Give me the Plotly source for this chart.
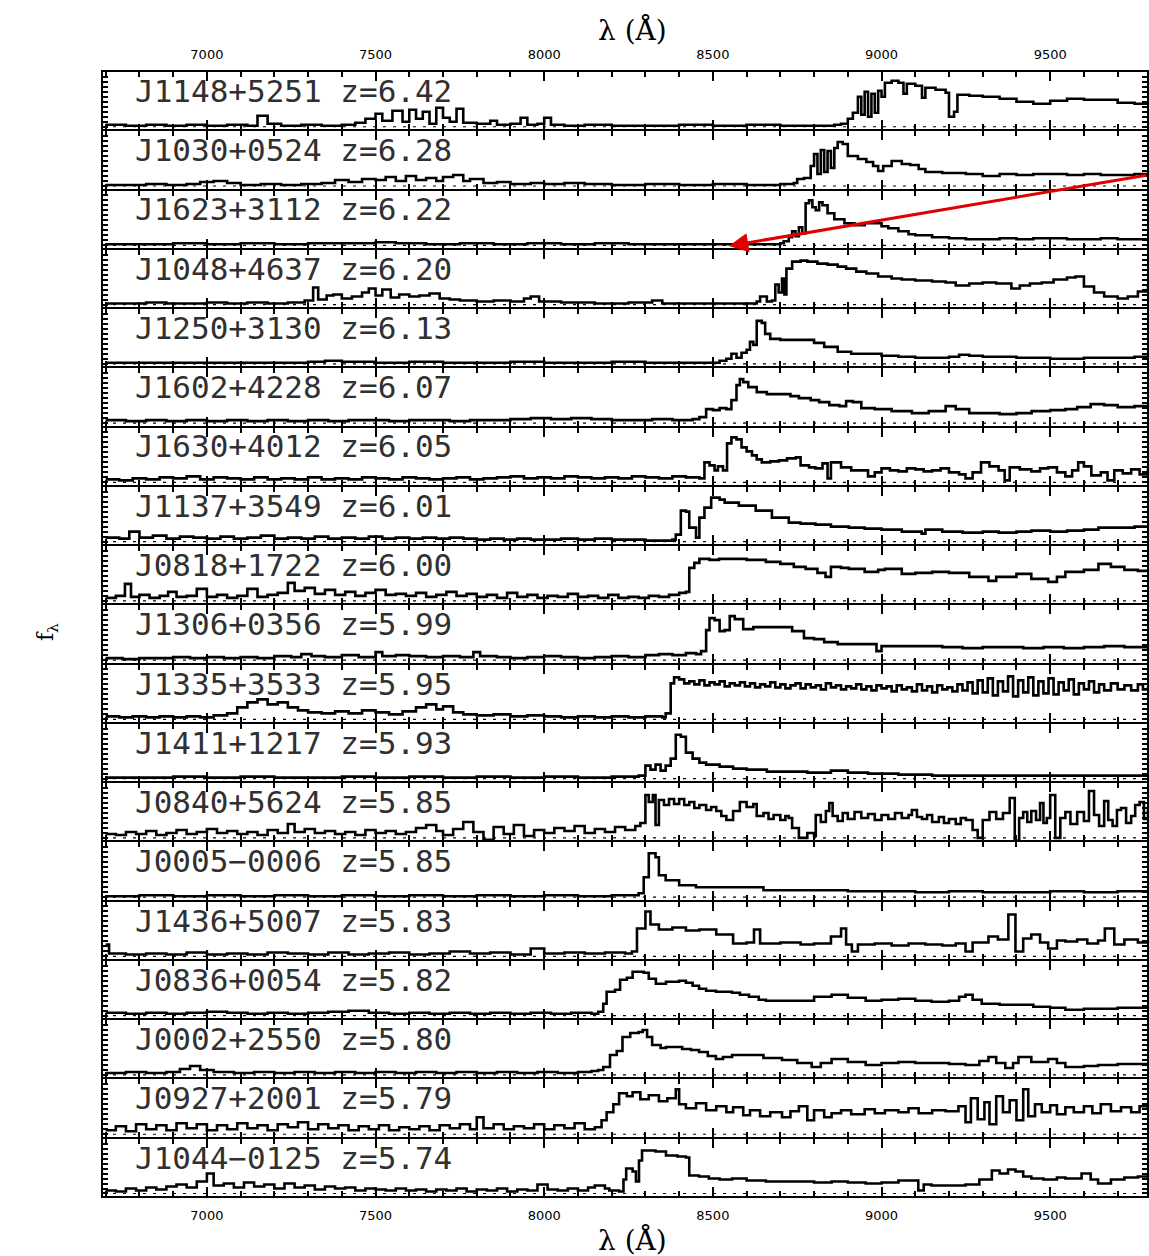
import plotly.graph_objects as go
from plotly.subplots import make_subplots

NAMES = ["J1148+5251", "J1030+0524", "J1623+3112", "J1048+4637", "J1250+3130",
         "J1602+4228", "J1630+4012", "J1137+3549", "J0818+1722", "J1306+0356",
         "J1335+3533", "J1411+1217", "J0840+5624", "J0005\u22120006", "J1436+5007",
         "J0836+0054", "J0002+2550", "J0927+2001", "J1044\u22120125"]
REDSHIFTS = ["6.42", "6.28", "6.22", "6.20", "6.13", "6.07", "6.05", "6.01", "6.00", "5.99",
             "5.95", "5.93", "5.85", "5.85", "5.83", "5.82", "5.80", "5.79", "5.74"]
TICK_VALUES = [7000, 7500, 8000, 8500, 9000, 9500]

# (wavelength [A], flux [arbitrary units])
J1148 = [(6700,2),(6760,1),(6820,2),(6880,1),(6940,2),(7000,1),(7060,2),(7120,1),(7150,11),(7180,3),
         (7220,1),(7280,2),(7340,1),(7400,2),(7440,4),(7470,8),(7500,13),(7520,6),(7550,16),(7580,5),
         (7600,17),(7620,8),(7640,15),(7660,3),(7680,19),(7700,9),(7720,5),(7740,18),(7760,4),(7800,3),
         (7840,6),(7860,2),(7900,3),(7930,9),(7950,2),(7980,3),(8000,9),(8020,2),(8060,1),(8120,2),
         (8200,1),(8300,1),(8400,2),(8500,1),(8600,2),(8700,1),(8800,1),(8860,2),(8880,3),(8900,8),
         (8915,14),(8930,30),(8940,12),(8950,35),(8960,10),(8970,33),(8980,14),(8990,36),(9000,30),(9010,44),
         (9030,46),(9050,44),(9065,33),(9075,43),(9100,41),(9120,29),(9130,39),(9160,37),(9190,34),(9200,10),
         (9215,15),(9225,32),(9260,31),(9300,30),(9350,28),(9400,25),(9450,23),(9500,26),(9550,28),(9600,27),
         (9650,27),(9700,24),(9750,23),(9790,25)]
J1030 = [(6700,1),(6760,1),(6820,2),(6880,1),(6940,2),(6980,4),(7020,5),(7060,3),(7100,1),(7160,2),
         (7220,1),(7280,2),(7340,3),(7380,6),(7420,4),(7460,7),(7500,6),(7530,9),(7560,5),(7590,10),
         (7620,6),(7650,8),(7680,5),(7700,9),(7730,11),(7760,5),(7780,7),(7820,3),(7860,4),(7900,2),
         (7960,3),(8000,2),(8060,3),(8120,2),(8200,1),(8300,2),(8400,1),(8500,2),(8600,1),(8700,2),
         (8740,3),(8750,7),(8770,8),(8790,20),(8800,32),(8810,12),(8820,36),(8830,14),(8840,35),(8850,18),
         (8860,38),(8870,44),(8885,42),(8900,30),(8930,27),(8955,24),(8975,20),(8990,15),(9005,20),(9030,25),
         (9060,22),(9085,21),(9110,17),(9130,14),(9180,13),(9250,12),(9300,10),(9350,12),(9400,11),(9450,12),
         (9500,12),(9550,11),(9600,12),(9650,11),(9700,11),(9750,12),(9790,13)]
J1623 = [(6700,1),(6800,1),(6900,2),(7000,1),(7100,2),(7200,1),(7300,2),(7400,2),(7500,3),(7560,2),
         (7650,1),(7750,2),(7850,1),(7950,2),(8050,1),(8150,2),(8250,1),(8350,1),(8450,1),(8550,1),
         (8650,1),(8700,2),(8710,4),(8725,8),(8735,14),(8745,9),(8755,18),(8765,12),(8775,42),(8785,45),
         (8795,38),(8805,35),(8815,43),(8825,40),(8840,32),(8860,26),(8890,22),(8920,20),(8950,22),(8980,22),
         (9000,19),(9020,17),(9050,14),(9080,11),(9100,10),(9150,8),(9200,7),(9250,6),(9300,6),(9350,7),
         (9400,6),(9450,7),(9500,7),(9550,6),(9600,6),(9650,7),(9700,6),(9750,6),(9790,6)]
J1048 = [(6700,1),(6760,1),(6820,2),(6880,1),(6940,1),(7000,2),(7060,1),(7120,2),(7180,1),(7240,2),
         (7290,4),(7315,17),(7330,5),(7355,9),(7375,10),(7400,6),(7430,8),(7460,12),(7480,16),(7500,9),
         (7520,15),(7545,7),(7570,10),(7600,8),(7630,9),(7660,11),(7690,6),(7720,5),(7750,4),(7800,3),
         (7850,4),(7900,3),(7940,6),(7960,8),(7985,3),(8050,2),(8150,1),(8250,2),(8320,4),(8350,1),
         (8450,1),(8550,1),(8630,3),(8640,8),(8660,3),(8675,4),(8685,20),(8695,12),(8705,26),(8712,10),
         (8718,36),(8735,43),(8760,44),(8780,43),(8810,41),(8840,40),(8870,38),(8895,36),(8925,33),(8955,31),
         (8990,28),(9030,26),(9060,25),(9100,24),(9150,23),(9190,22),(9220,19),(9260,21),(9300,22),(9340,21),
         (9385,16),(9410,19),(9440,21),(9475,22),(9510,25),(9550,27),(9575,28),(9600,18),(9630,12),(9660,8),
         (9700,6),(9730,8),(9760,13),(9790,19)]
J1250 = [(6700,1),(6800,1),(6900,1),(7000,1),(7100,1),(7200,1),(7300,2),(7350,3),(7400,2),(7500,1),
         (7600,2),(7700,1),(7800,1),(7900,2),(8000,1),(8100,1),(8200,2),(8300,1),(8400,1),(8500,1),
         (8520,3),(8540,5),(8555,10),(8570,6),(8585,11),(8600,14),(8610,22),(8620,19),(8630,43),(8645,41),
         (8655,30),(8670,25),(8700,24),(8740,24),(8780,24),(8800,21),(8830,17),(8870,12),(8910,10),(8950,10),
         (9000,8),(9050,7),(9100,6),(9150,6),(9200,7),(9230,9),(9260,8),(9300,7),(9350,7),(9400,6),
         (9450,6),(9500,5),(9550,5),(9600,6),(9650,6),(9700,6),(9750,7),(9790,7)]
J1602 = [(6700,3),(6760,2),(6820,3),(6880,2),(6940,3),(7000,2),(7060,3),(7120,2),(7180,3),(7240,2),
         (7300,3),(7360,2),(7420,3),(7480,3),(7540,2),(7600,3),(7660,3),(7720,2),(7780,3),(7840,3),
         (7900,4),(7960,5),(8020,4),(8080,5),(8140,4),(8200,3),(8260,3),(8320,4),(8380,3),(8440,4),
         (8460,6),(8480,14),(8500,13),(8520,15),(8540,14),(8555,23),(8570,38),(8580,44),(8590,41),(8605,36),
         (8630,31),(8660,29),(8700,29),(8730,27),(8755,25),(8790,23),(8815,21),(8845,18),(8875,17),(8895,22),
         (8915,21),(8940,15),(8980,14),(9030,12),(9090,10),(9140,12),(9190,17),(9220,14),(9260,10),(9300,10),
         (9350,9),(9400,10),(9445,12),(9500,13),(9545,14),(9580,16),(9620,19),(9660,18),(9700,16),(9750,17),
         (9790,17)]
J1630 = [(6700,3),(6740,2),(6780,4),(6820,3),(6860,5),(6900,4),(6940,6),(6980,3),(7020,5),(7060,4),
         (7100,3),(7140,5),(7180,3),(7220,4),(7260,3),(7300,5),(7340,3),(7380,4),(7420,3),(7460,5),
         (7500,4),(7540,3),(7580,5),(7620,4),(7660,3),(7700,4),(7740,5),(7780,3),(7820,4),(7860,5),
         (7900,6),(7940,4),(7980,5),(8020,4),(8060,6),(8100,5),(8140,4),(8180,5),(8220,4),(8260,6),
         (8300,5),(8340,4),(8380,6),(8420,5),(8460,4),(8475,20),(8490,17),(8505,12),(8515,16),(8530,12),
         (8542,39),(8555,45),(8570,43),(8585,35),(8600,31),(8616,27),(8630,23),(8645,20),(8670,21),(8696,22),
         (8720,24),(8746,25),(8760,17),(8785,15),(8804,14),(8825,19),(8840,4),(8850,20),(8880,15),(8910,12),
         (8940,12),(8960,6),(8980,10),(9000,14),(9025,12),(9050,11),(9075,14),(9100,13),(9125,11),(9150,12),
         (9175,14),(9200,10),(9230,8),(9249,4),(9270,10),(9295,20),(9320,16),(9347,12),(9365,2),(9380,15),
         (9410,13),(9444,11),(9470,14),(9494,15),(9520,10),(9545,6),(9565,12),(9583,20),(9600,16),(9622,7),
         (9650,10),(9670,2),(9690,12),(9715,9),(9740,13),(9765,8),(9790,14)]
J1137 = [(6700,4),(6740,3),(6770,10),(6800,4),(6840,6),(6880,3),(6920,5),(6960,4),(7000,3),(7040,5),
         (7080,3),(7120,4),(7160,6),(7200,3),(7240,4),(7280,3),(7320,5),(7360,3),(7400,4),(7440,3),
         (7480,5),(7520,3),(7560,4),(7600,3),(7640,4),(7680,3),(7720,4),(7760,3),(7800,2),(7840,3),
         (7880,2),(7920,3),(7960,2),(8000,2),(8050,3),(8100,2),(8150,3),(8200,2),(8250,2),(8300,1),
         (8350,1),(8380,2),(8390,7),(8405,31),(8420,30),(8430,14),(8450,4),(8460,24),(8475,34),(8495,44),
         (8520,42),(8535,39),(8577,36),(8627,31),(8675,24),(8725,19),(8760,18),(8804,17),(8850,15),(8903,14),
         (8950,13),(9000,12),(9060,10),(9100,10),(9119,8),(9130,12),(9180,10),(9240,9),(9300,10),(9347,9),
         (9400,10),(9444,11),(9500,10),(9550,11),(9600,12),(9643,14),(9700,14),(9750,15),(9790,15)]
J0818 = [(6700,3),(6730,5),(6757,17),(6775,4),(6800,6),(6830,3),(6860,5),(6885,9),(6910,4),(6940,5),
         (6970,12),(7000,4),(7030,6),(7060,3),(7090,5),(7120,12),(7150,4),(7180,6),(7210,8),(7240,18),
         (7260,10),(7290,13),(7320,7),(7350,11),(7380,6),(7410,9),(7440,5),(7470,8),(7500,11),(7530,6),
         (7560,7),(7590,5),(7620,8),(7650,4),(7680,6),(7710,9),(7740,5),(7770,7),(7800,4),(7830,6),
         (7860,3),(7890,8),(7920,4),(7950,6),(7980,3),(8010,5),(8040,4),(8070,7),(8100,4),(8130,5),
         (8160,3),(8190,6),(8220,3),(8250,4),(8280,3),(8310,5),(8340,4),(8370,6),(8400,8),(8420,9),
         (8430,33),(8445,38),(8460,42),(8490,41),(8518,42),(8560,42),(8600,41),(8657,39),(8700,37),(8740,34),
         (8775,32),(8810,28),(8834,24),(8850,34),(8880,33),(8903,32),(8950,29),(8990,31),(9010,32),(9060,27),
         (9100,28),(9150,29),(9200,28),(9260,24),(9317,20),(9340,24),(9400,27),(9444,22),(9494,19),(9520,24),
         (9545,29),(9600,31),(9643,37),(9680,34),(9720,31),(9760,30),(9790,30)]
J1306 = [(6700,2),(6750,1),(6800,2),(6850,2),(6900,3),(6950,2),(7000,3),(7050,2),(7100,3),(7150,2),
         (7200,4),(7250,3),(7280,6),(7310,4),(7350,3),(7400,5),(7450,3),(7500,8),(7520,4),(7560,5),
         (7600,4),(7650,3),(7700,4),(7750,3),(7790,8),(7810,4),(7860,3),(7900,2),(7950,3),(8000,4),
         (8050,3),(8100,2),(8150,3),(8200,4),(8250,3),(8300,5),(8340,6),(8380,5),(8420,7),(8450,6),
         (8465,9),(8480,30),(8490,42),(8505,40),(8520,29),(8535,30),(8550,44),(8565,41),(8590,31),(8620,33),
         (8660,33),(8700,33),(8735,29),(8770,22),(8800,21),(8830,18),(8870,16),(8930,16),(8985,9),(9000,14),
         (9060,14),(9120,14),(9180,13),(9240,12),(9300,13),(9360,13),(9420,12),(9480,13),(9540,12),(9600,13),
         (9660,14),(9720,13),(9790,14)]
J1335 = [(6700,3),(6740,2),(6780,3),(6820,2),(6860,3),(6900,2),(6940,3),(6980,2),(7020,4),(7060,6),
         (7090,12),(7120,17),(7150,20),(7180,15),(7210,17),(7240,12),(7270,9),(7300,7),(7340,6),(7380,8),
         (7420,6),(7460,9),(7500,7),(7540,5),(7580,8),(7620,12),(7650,15),(7680,10),(7700,13),(7730,7),
         (7760,5),(7800,4),(7850,5),(7900,3),(7950,4),(8000,3),(8050,2),(8100,3),(8150,2),(8200,3),
         (8250,2),(8300,3),(8350,2),(8360,6),(8375,36),(8385,42),(8400,40),(8415,36),(8430,38),(8445,35),
         (8460,39),(8475,34),(8490,37),(8505,35),(8520,38),(8535,33),(8550,36),(8565,34),(8580,37),(8595,33),
         (8610,36),(8625,32),(8640,35),(8655,33),(8670,37),(8685,32),(8700,35),(8715,31),(8730,34),(8745,36),
         (8760,31),(8775,35),(8790,32),(8805,34),(8820,30),(8835,36),(8850,32),(8865,34),(8880,30),(8895,33),
         (8910,31),(8925,35),(8940,30),(8955,33),(8970,29),(8985,34),(9000,31),(9015,33),(9030,28),(9045,34),
         (9060,30),(9075,32),(9090,28),(9105,35),(9120,29),(9135,33),(9150,27),(9165,34),(9180,30),(9195,32),
         (9210,28),(9225,35),(9240,29),(9255,37),(9270,26),(9285,39),(9300,27),(9315,41),(9330,24),(9345,38),
         (9360,28),(9375,43),(9390,23),(9405,39),(9420,27),(9435,42),(9450,24),(9465,38),(9480,26),(9495,41),
         (9510,25),(9525,37),(9540,29),(9555,40),(9570,25),(9585,36),(9600,30),(9615,38),(9630,27),(9645,35),
         (9660,29),(9680,36),(9700,30),(9720,34),(9740,29),(9760,35),(9775,30),(9790,33)]
J1411 = [(6700,1),(6800,1),(6900,2),(7000,1),(7100,2),(7200,1),(7300,1),(7400,2),(7500,1),(7600,2),
         (7700,1),(7800,2),(7900,1),(8000,2),(8100,1),(8200,2),(8280,3),(8300,13),(8315,9),(8330,14),
         (8345,8),(8360,13),(8375,20),(8390,44),(8405,42),(8420,26),(8440,20),(8460,16),(8480,14),(8520,12),
         (8560,10),(8600,9),(8660,7),(8720,7),(8780,6),(8850,8),(8900,6),(8960,5),(9050,4),(9150,3),
         (9250,3),(9350,3),(9450,3),(9550,3),(9650,3),(9790,3)]
J0840 = [(6700,4),(6730,3),(6760,6),(6790,4),(6820,7),(6850,3),(6880,5),(6910,8),(6940,4),(6970,6),
         (7000,9),(7030,5),(7060,7),(7090,4),(7120,6),(7150,3),(7180,8),(7210,5),(7240,14),(7260,6),
         (7290,9),(7320,5),(7350,7),(7380,4),(7410,6),(7440,3),(7470,8),(7500,5),(7530,7),(7560,4),
         (7590,6),(7620,10),(7650,13),(7680,7),(7700,3),(7730,9),(7760,16),(7790,6),(7820,-2),(7850,11),
         (7880,4),(7910,13),(7940,2),(7970,8),(8000,5),(8030,10),(8060,7),(8090,12),(8120,5),(8150,9),
         (8180,6),(8210,11),(8240,8),(8270,12),(8285,15),(8300,43),(8310,36),(8322,43),(8330,13),(8340,38),
         (8355,33),(8370,39),(8385,34),(8400,39),(8415,33),(8430,36),(8445,30),(8460,33),(8480,28),(8495,31),
         (8510,27),(8525,22),(8540,18),(8560,27),(8580,36),(8600,31),(8620,34),(8630,22),(8650,25),(8665,19),
         (8680,23),(8700,18),(8715,22),(8725,20),(8735,10),(8755,0),(8780,5),(8800,2),(8805,23),(8820,16),
         (8835,27),(8845,35),(8855,22),(8870,17),(8885,25),(8900,19),(8920,26),(8940,20),(8960,24),(8980,18),
         (9000,23),(9020,19),(9040,25),(9060,20),(9080,23),(9090,28),(9105,21),(9120,19),(9135,23),(9150,16),
         (9170,21),(9185,15),(9200,19),(9220,14),(9235,20),(9250,18),(9270,8),(9285,0),(9300,18),(9320,26),
         (9340,19),(9360,25),(9380,40),(9395,-3),(9408,20),(9420,26),(9432,16),(9444,27),(9458,18),(9470,35),
         (9480,15),(9490,20),(9500,43),(9515,0),(9530,20),(9545,26),(9560,14),(9580,26),(9600,17),(9615,47),
         (9630,23),(9645,12),(9660,37),(9672,18),(9685,12),(9698,28),(9710,30),(9725,15),(9740,22),(9752,33),
         (9765,36),(9778,19),(9790,30)]
J0005 = [(6700,1),(6800,2),(6900,1),(7000,2),(7100,1),(7200,2),(7300,1),(7400,2),(7500,1),(7600,2),
         (7700,1),(7800,2),(7900,1),(8000,2),(8100,1),(8200,2),(8280,4),(8295,20),(8310,44),(8330,40),
         (8340,22),(8360,17),(8400,12),(8450,10),(8550,10),(8650,7),(8800,7),(8900,6),(9000,6),(9100,5),
         (9200,6),(9300,5),(9400,5),(9500,6),(9600,5),(9700,6),(9790,5)]
J1436 = [(6700,12),(6710,3),(6760,2),(6820,3),(6880,2),(6940,4),(7000,2),(7060,3),(7120,2),(7180,4),
         (7240,3),(7300,2),(7360,4),(7420,2),(7480,3),(7540,4),(7600,2),(7660,3),(7720,5),(7780,3),
         (7840,4),(7900,2),(7960,8),(8000,3),(8060,4),(8120,3),(8180,4),(8240,3),(8260,5),(8275,28),
         (8300,45),(8315,32),(8340,27),(8380,29),(8420,26),(8460,27),(8510,22),(8560,13),(8600,14),(8622,27),
         (8640,13),(8700,14),(8760,12),(8800,13),(8850,20),(8880,28),(8895,12),(8912,5),(8930,12),(8980,13),
         (9030,11),(9080,13),(9130,12),(9180,11),(9220,13),(9249,5),(9270,14),(9317,20),(9345,17),(9376,42),
         (9397,5),(9420,18),(9444,22),(9470,14),(9494,8),(9520,16),(9545,15),(9580,17),(9610,13),(9642,16),
         (9662,28),(9690,12),(9720,17),(9760,14),(9790,15)]
J0836 = [(6700,3),(6760,2),(6820,3),(6880,2),(6940,3),(7000,4),(7060,3),(7120,2),(7180,3),(7240,2),
         (7300,3),(7360,4),(7420,5),(7480,3),(7540,2),(7600,3),(7660,2),(7720,3),(7780,2),(7840,3),
         (7900,2),(7960,3),(8020,2),(8080,3),(8140,2),(8160,4),(8175,12),(8185,24),(8210,26),(8225,36),
         (8245,38),(8262,44),(8295,43),(8310,37),(8331,32),(8361,34),(8400,35),(8420,33),(8440,30),(8459,27),
         (8480,25),(8509,24),(8557,23),(8580,21),(8607,19),(8636,16),(8657,15),(8700,15),(8755,15),(8800,19),
         (8852,21),(8900,18),(8953,15),(9000,16),(9050,17),(9100,15),(9148,14),(9200,15),(9230,19),(9249,21),
         (9270,16),(9297,12),(9350,11),(9397,11),(9450,9),(9500,8),(9545,6),(9600,7),(9642,7),(9700,8),
         (9790,9)]
J0002 = [(6700,2),(6760,3),(6820,2),(6880,3),(6920,6),(6950,9),(6980,5),(7020,3),(7080,2),(7140,3),
         (7200,2),(7260,3),(7320,2),(7380,3),(7440,2),(7500,3),(7560,2),(7620,3),(7680,2),(7740,3),
         (7800,2),(7860,3),(7920,2),(7980,3),(8040,2),(8100,3),(8140,4),(8160,5),(8175,8),(8195,20),
         (8215,24),(8232,38),(8255,42),(8280,43),(8292,45),(8305,38),(8320,30),(8345,27),(8361,28),(8390,28),
         (8409,26),(8435,25),(8459,23),(8485,19),(8509,16),(8530,18),(8557,20),(8607,20),(8650,17),(8705,15),
         (8750,12),(8793,8),(8820,12),(8852,16),(8900,13),(8953,10),(9000,12),(9050,13),(9100,12),(9148,12),
         (9200,11),(9249,10),(9290,14),(9317,18),(9340,12),(9367,7),(9390,12),(9406,18),(9444,13),(9494,16),
         (9520,12),(9545,8),(9600,9),(9642,10),(9700,11),(9790,12)]
J0927 = [(6700,4),(6730,8),(6760,3),(6790,10),(6820,5),(6850,9),(6880,4),(6910,11),(6940,6),(6970,10),
         (7000,4),(7030,9),(7060,5),(7090,11),(7120,6),(7150,9),(7180,4),(7210,10),(7240,7),(7270,12),
         (7300,5),(7330,10),(7360,6),(7390,9),(7420,4),(7450,8),(7480,5),(7510,9),(7540,4),(7570,7),
         (7600,5),(7630,8),(7660,4),(7690,9),(7720,6),(7750,10),(7780,5),(7800,17),(7820,6),(7850,10),
         (7880,5),(7910,8),(7940,6),(7970,10),(8000,5),(8030,9),(8060,6),(8090,11),(8120,5),(8150,7),
         (8170,14),(8185,22),(8205,30),(8222,41),(8245,38),(8262,42),(8285,35),(8310,39),(8340,33),(8365,36),
         (8390,45),(8400,30),(8420,26),(8450,31),(8480,24),(8510,28),(8540,22),(8560,27),(8590,19),(8610,24),
         (8640,18),(8670,22),(8705,17),(8730,23),(8755,28),(8780,14),(8800,24),(8830,17),(8852,21),(8880,24),
         (8910,20),(8950,25),(8980,21),(9010,24),(9050,22),(9080,26),(9110,21),(9150,24),(9190,23),(9228,28),
         (9249,12),(9265,36),(9285,15),(9305,32),(9320,10),(9340,38),(9360,22),(9380,34),(9400,14),(9420,45),
         (9435,18),(9455,30),(9475,22),(9500,29),(9520,20),(9545,27),(9570,22),(9600,28),(9625,21),(9650,30),
         (9680,23),(9710,27),(9740,22),(9765,28),(9790,24)]
J1044 = [(6700,3),(6730,2),(6760,5),(6790,3),(6820,6),(6850,4),(6880,7),(6910,9),(6940,6),(6970,12),
         (7000,20),(7020,8),(7050,10),(7080,6),(7110,11),(7140,7),(7170,9),(7200,5),(7230,10),(7260,6),
         (7290,8),(7320,4),(7350,7),(7380,5),(7410,6),(7440,3),(7470,5),(7500,4),(7530,3),(7560,5),
         (7590,3),(7620,4),(7650,2),(7680,4),(7710,3),(7740,5),(7770,2),(7800,4),(7830,3),(7860,5),
         (7890,2),(7920,4),(7950,3),(7980,9),(8010,4),(8040,3),(8070,5),(8100,3),(8130,6),(8150,8),
         (8163,8),(8180,5),(8193,3),(8222,2),(8235,14),(8243,25),(8262,22),(8272,12),(8281,33),(8290,43),
         (8330,42),(8361,38),(8395,37),(8420,36),(8430,18),(8459,17),(8488,15),(8520,14),(8557,15),(8600,13),
         (8657,12),(8700,12),(8760,12),(8800,11),(8852,12),(8900,11),(8953,10),(9000,11),(9050,13),(9090,13),
         (9109,3),(9125,9),(9148,8),(9200,8),(9249,9),(9290,14),(9327,23),(9350,20),(9375,24),(9397,22),
         (9420,17),(9444,15),(9480,14),(9520,16),(9545,15),(9593,20),(9620,14),(9642,10),(9680,14),(9720,16),
         (9760,17),(9790,20)]

SPECTRA = [J1148, J1030, J1623, J1048, J1250, J1602, J1630, J1137, J0818, J1306,
           J1335, J1411, J0840, J0005, J1436, J0836, J0002, J0927, J1044]

N = len(SPECTRA)
W, H = 1149, 1256
ML, MR, MT, MB = 103, 0, 72, 60
PLOT_W = W - ML - MR
PLOT_H = H - MT - MB
GAP_PX = 2.0


def px_x(px):
    return (px - ML) / PLOT_W


def px_y(py):
    return (H - MB - py) / PLOT_H


fig = make_subplots(rows=N, cols=1, shared_xaxes=True, vertical_spacing=GAP_PX / PLOT_H)

for i, spec in enumerate(SPECTRA):
    wl = [p[0] for p in spec]
    fx = [p[1] for p in spec]
    fig.add_trace(go.Scatter(x=wl, y=fx, mode="lines",
                             line=dict(color="black", width=2.6, shape="hv"),
                             hoverinfo="skip", showlegend=False),
                  row=i + 1, col=1)

fig.update_xaxes(range=[6692, 9787], showline=True, linewidth=2, linecolor="black",
                 mirror="ticks", ticks="inside", ticklen=9, tickwidth=1.5, tickcolor="black",
                 tickmode="array", tickvals=TICK_VALUES, ticktext=[str(v) for v in TICK_VALUES],
                 minor=dict(dtick=100, tick0=7000, ticks="inside", ticklen=5, tickwidth=1.5,
                            tickcolor="black"),
                 showgrid=False, zeroline=False, showticklabels=False,
                 tickfont=dict(family="DejaVu Sans", size=13, color="black"))
fig.update_xaxes(side="top", showticklabels=True, ticklabelstandoff=6, row=1, col=1)
fig.update_xaxes(showticklabels=True, ticklabelstandoff=6, row=N, col=1)

fig.update_yaxes(range=[-2.5, 54.8], showline=True, linewidth=2, linecolor="black",
                 mirror="ticks", ticks="inside", ticklen=5, tickwidth=1.5, tickcolor="black",
                 dtick=5, tick0=0, showticklabels=False, showgrid=False, zeroline=False)

shapes = []
annotations = []
for i in range(N):
    n = "" if i == 0 else str(i + 1)
    shapes.append(dict(type="line", xref=f"x{n} domain", yref=f"y{n}", x0=0, x1=1, y0=0, y1=0,
                       line=dict(color="black", width=1.2, dash="3px,7px")))
    annotations.append(dict(text=f"{NAMES[i]} z={REDSHIFTS[i]}", xref="paper", yref=f"y{n} domain",
                            x=px_x(133), y=0.67, xanchor="left", yanchor="middle",
                            showarrow=False,
                            font=dict(family="DejaVu Sans Mono", size=31, color="#303030")))

# axis titles
for ty in (30, 1240):
    annotations.append(dict(text="\u03bb (\u00c5)", xref="paper", yref="paper",
                            x=px_x(634), y=px_y(ty), xanchor="center", yanchor="middle",
                            showarrow=False,
                            font=dict(family="DejaVu Serif", size=28, color="black")))
annotations.append(dict(text="f<sub>\u03bb</sub>", xref="paper", yref="paper",
                        x=px_x(47), y=px_y(632), xanchor="center", yanchor="middle",
                        textangle=-90, showarrow=False,
                        font=dict(family="DejaVu Serif", size=22, color="black")))
# red arrow
annotations.append(dict(text="", xref="paper", yref="paper",
                        x=px_x(730), y=px_y(246),
                        ax=419, ay=-71, showarrow=True, arrowhead=2, arrowsize=1.3,
                        arrowwidth=3, arrowcolor="#e00000"))

fig.update_layout(width=W, height=H, margin=dict(l=ML, r=MR, t=MT, b=MB),
                  paper_bgcolor="white", plot_bgcolor="white",
                  shapes=shapes, annotations=annotations, showlegend=False)

fig.write_html("out.html", config={"displayModeBar": False},
               post_script="document.body.style.margin='0px';document.body.style.overflow='hidden';")
